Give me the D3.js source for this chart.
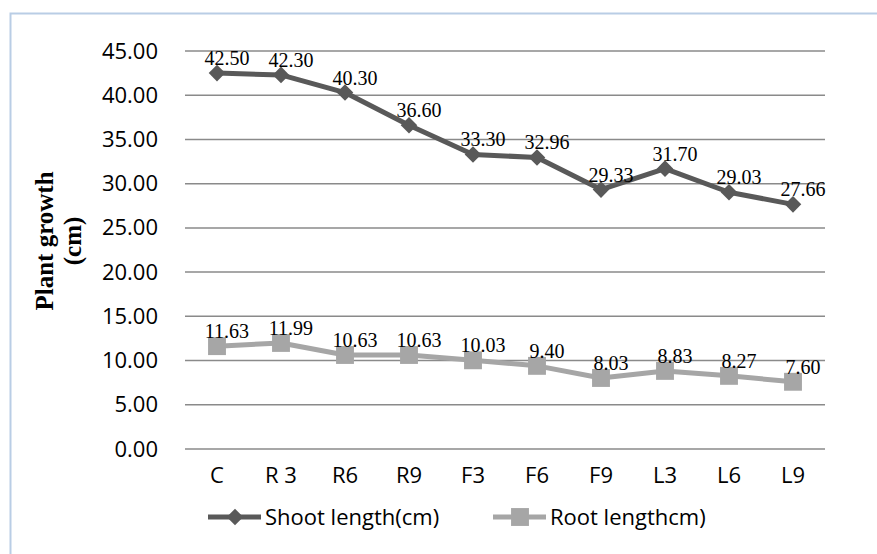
<!DOCTYPE html>
<html lang="en">

<head>
  <meta charset="utf-8">
  <title>Plant growth</title>
  <script src="https://cdn.jsdelivr.net/npm/d3@7"></script>
  <style>
    body { margin: 0; background: #fff; }
    svg { display: block; }
  </style>
</head>

<body>
  <svg id="chart" width="877" height="554"></svg>

  <script>
    // chart data
    var categories = ["C", "R 3", "R6", "R9", "F3", "F6", "F9", "L3", "L6", "L9"];
    var shootLength = [42.50, 42.30, 40.30, 36.60, 33.30, 32.96, 29.33, 31.70, 29.03, 27.66];
    var rootLength = [11.63, 11.99, 10.63, 10.63, 10.03, 9.40, 8.03, 8.83, 8.27, 7.60];
    var yTicks = [0, 5, 10, 15, 20, 25, 30, 35, 40, 45];
    var seriesNames = ["Shoot length(cm)", "Root lengthcm)"];

    var svg = d3.select("#chart");
    var uiFont = "'Open Sans', sans-serif";
    var labelFont = "'Liberation Serif', 'Times New Roman', serif";

    // chart area border (light blue)
    svg.append("path")
      .attr("d", "M10.5,554 L10.5,13.5 L877,13.5")
      .attr("fill", "none")
      .attr("stroke", "#b9cde5")
      .attr("stroke-width", 2);

    var x = d3.scaleBand().domain(categories).range([185, 825]);
    var y = d3.scaleLinear().domain([0, 45]).range([449, 51]);

    // gridlines
    svg.append("g")
      .selectAll("line")
      .data(yTicks)
      .join("line")
      .attr("x1", 185).attr("x2", 825)
      .attr("y1", function (d) { return y(d); })
      .attr("y2", function (d) { return y(d); })
      .attr("stroke", "#8a8a8a")
      .attr("stroke-width", 1.5);

    // y axis labels
    var yAxis = d3.axisLeft(y).tickValues(yTicks).tickFormat(d3.format(".2f")).tickSize(0).tickPadding(27);
    var yg = svg.append("g").attr("transform", "translate(185,0)").call(yAxis);
    yg.select(".domain").remove();
    yg.selectAll("text")
      .attr("font-family", uiFont)
      .attr("font-size", 22)
      .attr("fill", "#000");

    // x axis labels
    var xAxis = d3.axisBottom(x).tickSize(0).tickPadding(18);
    var xg = svg.append("g").attr("transform", "translate(0,449)").call(xAxis);
    xg.select(".domain").remove();
    xg.selectAll("text")
      .attr("font-family", uiFont)
      .attr("font-size", 22)
      .attr("fill", "#000");

    // y axis title
    var title = svg.append("text")
      .attr("transform", "translate(53,241) rotate(-90)")
      .attr("text-anchor", "middle")
      .attr("font-family", labelFont)
      .attr("font-weight", "bold")
      .attr("font-size", 25)
      .attr("fill", "#000");
    title.append("tspan").attr("x", 0).attr("y", 0).text("Plant growth");
    title.append("tspan").attr("x", 0).attr("y", 28).text("(cm)");

    var line = d3.line()
      .x(function (d, i) { return x(categories[i]) + x.bandwidth() / 2; })
      .y(function (d) { return y(d); });

    var diamond = d3.symbol().type(d3.symbolDiamond2).size(175);
    var square = d3.symbol().type(d3.symbolSquare).size(320);

    var series = [
      { name: seriesNames[0], values: shootLength, color: "#595959", symbol: diamond },
      { name: seriesNames[1], values: rootLength, color: "#a6a6a6", symbol: square }
    ];

    series.forEach(function (s) {
      var g = svg.append("g");
      g.append("path")
        .datum(s.values)
        .attr("d", line)
        .attr("fill", "none")
        .attr("stroke", s.color)
        .attr("stroke-width", 5)
        .attr("stroke-linejoin", "round");

      g.selectAll(".marker")
        .data(s.values)
        .join("path")
        .attr("class", "marker")
        .attr("transform", function (d, i) {
          return "translate(" + (x(categories[i]) + x.bandwidth() / 2) + "," + y(d) + ")";
        })
        .attr("d", s.symbol)
        .attr("fill", s.color);

      g.selectAll(".value")
        .data(s.values)
        .join("text")
        .attr("class", "value")
        .attr("x", function (d, i) { return x(categories[i]) + x.bandwidth() / 2 + 10; })
        .attr("y", function (d) { return y(d) - 8; })
        .attr("text-anchor", "middle")
        .attr("font-family", labelFont)
        .attr("font-size", 20)
        .attr("fill", "#000")
        .text(function (d) { return d.toFixed(2); });
    });

    // legend
    var legendX = [208, 493];
    var legend = svg.append("g").selectAll("g")
      .data(series)
      .join("g")
      .attr("transform", function (d, i) { return "translate(" + legendX[i] + ",517)"; });

    legend.append("line")
      .attr("x1", 0).attr("x2", 53)
      .attr("stroke", function (d) { return d.color; })
      .attr("stroke-width", 5);
    legend.append("path")
      .attr("transform", "translate(27,0)")
      .attr("d", function (d) { return d.symbol(); })
      .attr("fill", function (d) { return d.color; });
    legend.append("text")
      .attr("x", 57)
      .attr("dy", "0.35em")
      .attr("font-family", uiFont)
      .attr("font-size", 22)
      .attr("fill", "#000")
      .text(function (d) { return d.name; });
  </script>
</body>

</html>
